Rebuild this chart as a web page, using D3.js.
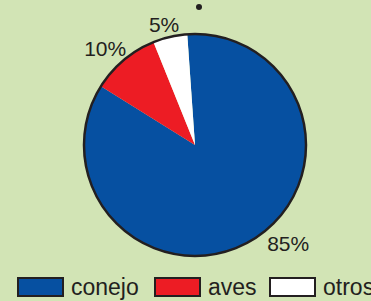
<!DOCTYPE html>
<html>
<head>
<meta charset="utf-8">
<script src="https://cdn.jsdelivr.net/npm/d3@7"></script>
<style>
  body { margin: 0; background: #d2e4b5; }
  text { font-family: "Liberation Sans", Arial, sans-serif; fill: #231f20; }
</style>
</head>
<body>
<div id="chart"></div>
<script>
var categories = ["conejo", "aves", "otros"];
var values = [85, 10, 5];
var labels = ["85%", "10%", "5%"];
var colors = ["#0650a1", "#ed1c24", "#ffffff"];

var width = 371, height = 301;
var radius = 111;

var svg = d3.select("#chart")
  .append("svg")
    .attr("width", width)
    .attr("height", height);

// stray dot from the cut-off title above
svg.append("circle")
  .attr("cx", 199)
  .attr("cy", 7)
  .attr("r", 3)
  .style("fill", "#231f20");

var g = svg.append("g")
  .attr("transform", "translate(195,145)");

var startDeg = -4;
var pie = d3.pie()
  .sort(null)
  .startAngle(startDeg * Math.PI / 180)
  .endAngle((startDeg + 360) * Math.PI / 180);

var arcs = pie(values);

var arc = d3.arc().innerRadius(0).outerRadius(radius);

g.selectAll("path.slice")
  .data(arcs)
  .enter()
  .append("path")
    .attr("class", "slice")
    .attr("d", arc)
    .style("fill", function(d, i) { return colors[i]; });

// outline circle
g.append("circle")
  .attr("r", radius)
  .style("fill", "none")
  .style("stroke", "#231f20")
  .style("stroke-width", 2.5);

// label placement: how far along each slice, and how far out
var labelFrac = [0.46, 0.42, 0.42];
var labelR = [136, 132, 124];

g.selectAll("text.lbl")
  .data(arcs)
  .enter()
  .append("text")
    .attr("class", "lbl")
    .attr("transform", function(d, i) {
      var a = d.startAngle + (d.endAngle - d.startAngle) * labelFrac[i];
      return "translate(" + (Math.sin(a) * labelR[i]) + "," + (-Math.cos(a) * labelR[i]) + ")";
    })
    .attr("text-anchor", "middle")
    .attr("dy", "0.35em")
    .style("font-size", "21px")
    .text(function(d, i) { return labels[i]; });

// legend
var x = d3.scaleOrdinal()
  .domain(categories)
  .range([18, 155, 270]);

var leg = svg.selectAll("g.leg")
  .data(categories)
  .enter()
  .append("g")
    .attr("class", "leg")
    .attr("transform", function(d) { return "translate(" + x(d) + ",278)"; });

leg.append("rect")
  .attr("width", 45)
  .attr("height", 18)
  .style("fill", function(d, i) { return colors[i]; })
  .style("stroke", "#231f20")
  .style("stroke-width", 2);

leg.append("text")
  .attr("x", 53)
  .attr("y", 17)
  .style("font-size", "23px")
  .text(function(d) { return d; });
</script>
</body>
</html>
